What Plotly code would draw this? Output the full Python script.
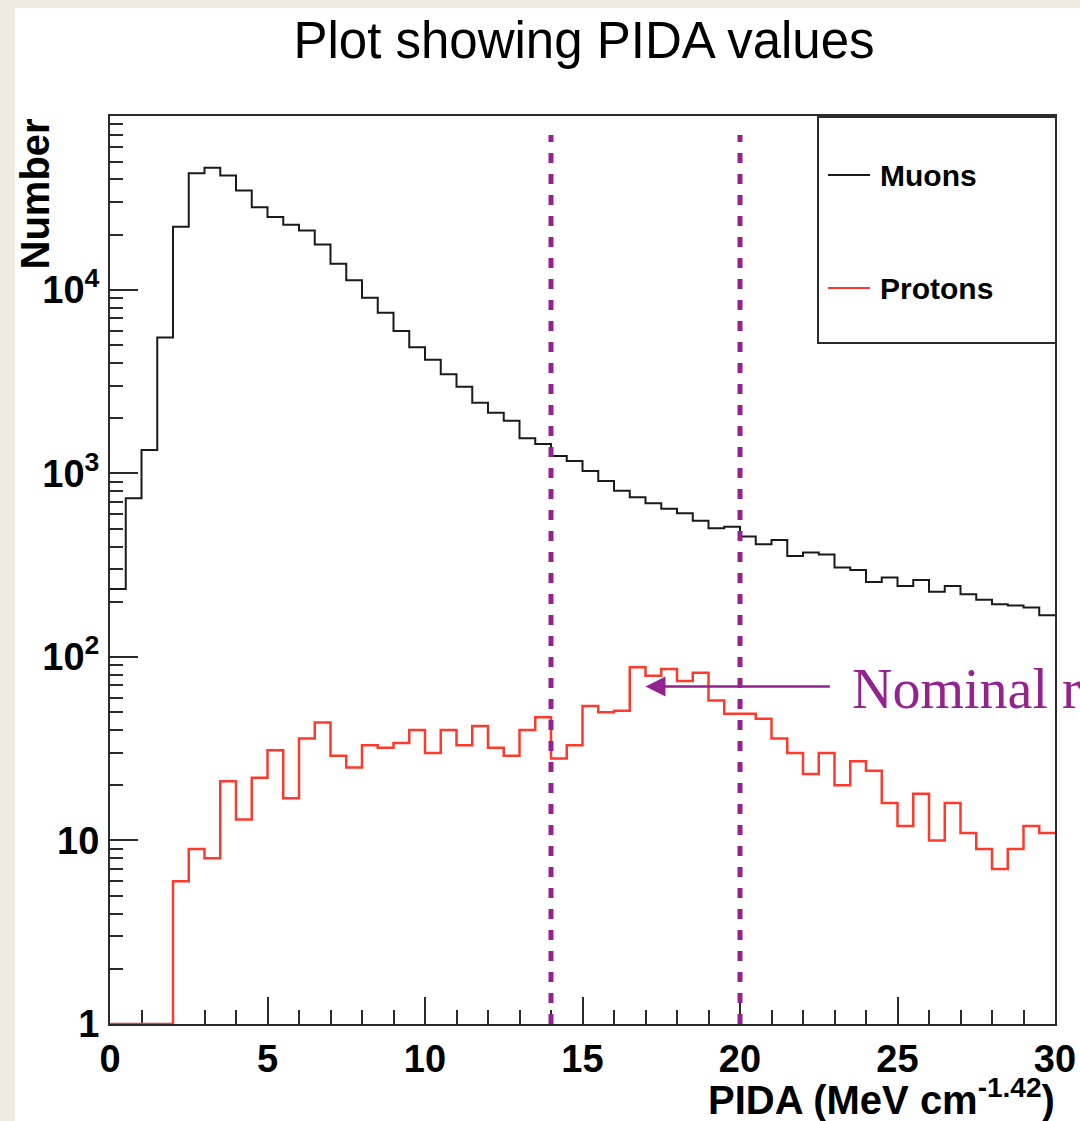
import numpy as np
import plotly.graph_objects as go

# ---------------- data ----------------
BIN_WIDTH = 0.5
N_BINS = 60

muon_counts = [235, 733, 1343, 5500, 22100, 43200, 46400, 42000, 34800, 28200,
               25000, 22700, 21100, 17700, 13900, 11300, 9080, 7520, 5980, 4870,
               4160, 3475, 2972, 2432, 2145, 1940, 1556, 1448, 1245, 1170,
               1032, 910, 806, 742, 688, 643, 607, 553, 503, 513,
               453, 411, 434, 355, 371, 362, 307, 298, 256, 271,
               244, 263, 227, 244, 220, 205, 194, 191, 186, 169]

proton_counts = [0, 0, 0, 0, 6, 9, 8, 21, 13, 22,
                 31, 17, 36, 44, 29, 25, 33, 32, 34, 40,
                 30, 40, 33, 42, 32, 29, 40, 47, 28, 33,
                 54, 50, 51, 88, 79, 86, 74, 82, 58, 49,
                 49, 46, 36, 30, 23, 30, 20, 27, 24, 16,
                 12, 18, 10, 16, 11, 9, 7, 9, 12, 11]

cut_positions = [14, 20]
cut_y_range = [1, 70000]

x_tick_vals = [0, 5, 10, 15, 20, 25, 30]
x_minor_vals = [v for v in range(0, 31) if v % 5 != 0]
y_tick_vals = [1, 10, 100, 1000, 10000]
y_tick_text = ["1", "10", "10<sup>2</sup>", "10<sup>3</sup>", "10<sup>4</sup>"]
y_minor_vals = [m * 10 ** d for d in range(0, 5) for m in range(2, 10)]

arrow_head = (17.0, 69)
arrow_tail = (22.9, 69)

Y_MIN, Y_MAX_LOG = 1, 4.948

# ---------------- figure ----------------
edges = np.arange(N_BINS + 1) * BIN_WIDTH

def step(counts):
    vals = np.maximum(np.asarray(counts, dtype=float), Y_MIN)
    return edges, np.append(vals, vals[-1])

BEIGE = "#efebe3"
PURPLE = "#93238f"
RED = "#ff3a2c"
DARK = "#2b2b2b"

fig = go.Figure()

mx, my = step(muon_counts)
fig.add_trace(go.Scatter(x=mx, y=my, mode="lines", line=dict(shape="hv", color="#1a1a1a", width=2),
                         name="Muons", showlegend=False, hoverinfo="skip"))
px_, py_ = step(proton_counts)
fig.add_trace(go.Scatter(x=px_, y=py_, mode="lines", line=dict(shape="hv", color=RED, width=2.5),
                         name="Protons", showlegend=False, hoverinfo="skip"))

for cx in cut_positions:
    fig.add_trace(go.Scatter(x=[cx, cx], y=cut_y_range, mode="lines",
                             line=dict(color=PURPLE, width=5, dash="10px,11px"),
                             showlegend=False, hoverinfo="skip"))

# plot-area coordinate helpers (paper)
L, R, T, B = 110, 1055, 116, 1024
def pxx(p):
    return (p - L) / (R - L)
def pxy(p):
    return (B - p) / (B - T)

shapes = [
    dict(type="rect", xref="paper", yref="paper", x0=pxx(15), x1=pxx(1100), y0=pxy(1140), y1=pxy(8),
         fillcolor="white", line=dict(width=0), layer="below"),
    dict(type="rect", xref="paper", yref="paper", x0=pxx(818), x1=pxx(1056), y0=pxy(343), y1=pxy(117),
         fillcolor="white", line=dict(color=DARK, width=2), layer="above"),
    dict(type="line", xref="paper", yref="paper", x0=pxx(828), x1=pxx(870), y0=pxy(175), y1=pxy(175),
         line=dict(color="#1a1a1a", width=2)),
    dict(type="line", xref="paper", yref="paper", x0=pxx(828), x1=pxx(870), y0=pxy(288), y1=pxy(288),
         line=dict(color=RED, width=2)),
]

annotations = [
    dict(text="Muons", xref="paper", yref="paper", x=pxx(878), y=pxy(175), xanchor="left", yanchor="middle",
         showarrow=False, font=dict(family="Liberation Sans", size=30, color="black", weight="bold")),
    dict(text="Protons", xref="paper", yref="paper", x=pxx(878), y=pxy(288), xanchor="left", yanchor="middle",
         showarrow=False, font=dict(family="Liberation Sans", size=30, color="black", weight="bold")),
    dict(text="Number", xref="paper", yref="paper", x=pxx(35), y=pxy(117), xanchor="center", yanchor="top",
         textangle=-90, showarrow=False,
         font=dict(family="Liberation Sans", size=40, color="black", weight="bold")),
    dict(text="PIDA (MeV cm<sup>-1.42</sup>)", xref="paper", yref="paper", x=pxx(1057), y=pxy(1097),
         xanchor="right", yanchor="middle", showarrow=False,
         font=dict(family="Liberation Sans", size=40, color="black", weight="bold")),
    dict(text="", x=arrow_head[0], y=np.log10(arrow_head[1]), ax=arrow_tail[0], ay=np.log10(arrow_tail[1]),
         xref="x", yref="y", axref="x", ayref="y", showarrow=True, arrowhead=2, arrowsize=1.6,
         arrowwidth=2.5, arrowcolor=PURPLE, standoff=0, startstandoff=0),
    dict(text="Nominal range", xref="paper", yref="paper", x=pxx(850), y=pxy(689), xanchor="left",
         yanchor="middle", showarrow=False,
         font=dict(family="Liberation Serif", size=56, color=PURPLE)),
]

fig.update_layout(
    width=1080, height=1121,
    margin=dict(l=L, r=1080 - R, t=T, b=1121 - B, pad=0, autoexpand=False),
    paper_bgcolor=BEIGE, plot_bgcolor="white",
    title=dict(text="Plot showing PIDA values", x=584 / 1080, xref="container", xanchor="center",
               y=1 - 40 / 1121, yref="container", yanchor="middle",
               font=dict(family="Liberation Sans", size=51, color="black")),
    shapes=shapes, annotations=annotations,
    xaxis=dict(range=[0, 30], showgrid=False, zeroline=False, showline=True, mirror=True, automargin=False,
               linecolor=DARK, linewidth=2, ticks="inside", ticklen=27, tickwidth=2, tickcolor=DARK,
               tickvals=x_tick_vals, layer="below traces",
               tickfont=dict(family="Liberation Sans", size=38, color="black", weight="bold"),
               minor=dict(tickvals=x_minor_vals, ticks="inside", ticklen=14, tickwidth=2, tickcolor=DARK,
                          showgrid=False)),
    yaxis=dict(type="log", range=[0, Y_MAX_LOG], showgrid=False, zeroline=False, showline=True, mirror=True,
               automargin=False,
               linecolor=DARK, linewidth=2, ticks="inside", ticklen=28, tickwidth=2, tickcolor=DARK,
               tickvals=y_tick_vals, ticktext=y_tick_text, layer="below traces", ticklabelstandoff=1,
               tickfont=dict(family="Liberation Sans", size=38, color="black", weight="bold"),
               minor=dict(tickvals=y_minor_vals, ticks="inside", ticklen=13, tickwidth=2, tickcolor=DARK,
                          showgrid=False)),
    showlegend=False,
)

fig.write_html("out.html", config={"displayModeBar": False},
               post_script="document.body.style.margin='0';document.body.style.overflow='hidden';")
